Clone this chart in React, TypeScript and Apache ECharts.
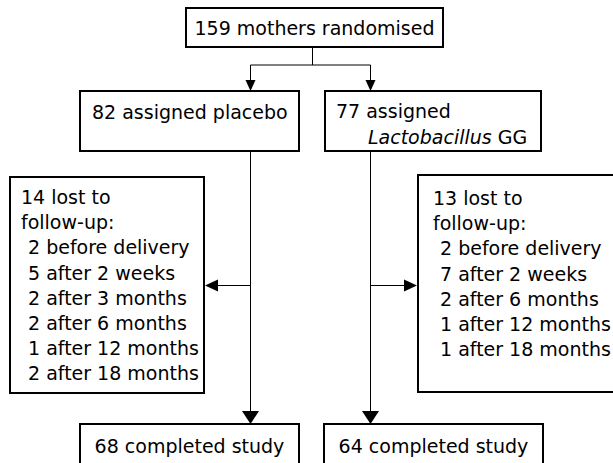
import React, { useEffect, useRef } from "react";
import * as echarts from "echarts";

// ---- content ----
const randomised = 159;
const armNames = ["placebo", "Lactobacillus GG"];
const assigned = [82, 77];
const lostTotal = [14, 13];
const lostTimesPlacebo = ["before delivery", "after 2 weeks", "after 3 months", "after 6 months", "after 12 months", "after 18 months"];
const lostCountsPlacebo = [2, 5, 2, 2, 1, 2];
const lostTimesLGG = ["before delivery", "after 2 weeks", "after 6 months", "after 12 months", "after 18 months"];
const lostCountsLGG = [2, 7, 2, 1, 1];
const completed = [68, 64];

// ---- layout (pixel units of a 613 x 463 canvas) ----
const W = 613;
const H = 463;
const FONT = "DejaVu Sans";
const FS = 19;
const LINE_H = 25.2;

const layout = {
  top: { x0: 186, y0: 8, x1: 443, y1: 47 },
  splitY: 65,
  armX: [250.5, 370.5],
  armBox: [
    { x0: 80, y0: 91, x1: 299, y1: 151 },
    { x0: 325, y0: 91, x1: 541, y1: 151 },
  ],
  lostBox: [
    { x0: 10, y0: 177, x1: 204, y1: 393 },
    { x0: 418, y0: 175, x1: 625, y1: 392 },
  ],
  lostArrowY: 285.5,
  lostTextX: [21, 433],
  lostFirstY: [197, 198],
  doneBox: [
    { x0: 80, y0: 424, x1: 299, y1: 472 },
    { x0: 324, y0: 424, x1: 543, y1: 472 },
  ],
  doneTextY: 446,
};

function renderItem(params: any, api: any) {
  const P = (x: number, y: number) => api.coord([x, y]);
  const children: any[] = [];
  const rect = (b: { x0: number; y0: number; x1: number; y1: number }) => {
    const a = P(b.x0, b.y0);
    const c = P(b.x1, b.y1);
    children.push({
      type: "rect",
      shape: { x: a[0], y: a[1], width: c[0] - a[0], height: c[1] - a[1] },
      style: { fill: "#fff", stroke: "#000", lineWidth: 2 },
    });
  };
  const line = (x0: number, y0: number, x1: number, y1: number) => {
    const a = P(x0, y0);
    const b = P(x1, y1);
    children.push({
      type: "line",
      shape: { x1: a[0], y1: a[1], x2: b[0], y2: b[1] },
      style: { stroke: "#000", lineWidth: 1 },
    });
  };
  // w = full width across the shaft, l = length along the shaft
  const arrow = (x: number, y: number, dir: "down" | "left" | "right", w: number, l: number) => {
    const h = w / 2;
    let pts: number[][];
    if (dir === "down") pts = [[x - h, y - l], [x + h, y - l], [x, y]];
    else if (dir === "left") pts = [[x + l, y - h], [x + l, y + h], [x, y]];
    else pts = [[x - l, y - h], [x - l, y + h], [x, y]];
    children.push({
      type: "polygon",
      shape: { points: pts.map((p) => P(p[0], p[1])) },
      style: { fill: "#000" },
    });
  };
  const text = (t: string, x: number, y: number, align: string = "left", rich?: any) => {
    const p = P(x, y);
    children.push({
      type: "text",
      style: {
        text: t,
        x: p[0],
        y: p[1],
        fill: "#000",
        fontFamily: FONT,
        fontSize: FS,
        align,
        verticalAlign: "middle",
        rich,
      },
    });
  };

  // connectors first (beneath boxes)
  const t = layout.top;
  const midX = 312.5;
  line(midX, t.y1, midX, layout.splitY);
  line(layout.armX[0], layout.splitY, layout.armX[1], layout.splitY);
  layout.armX.forEach((x) => {
    line(x, layout.splitY, x, layout.armBox[0].y0 - 8);
    arrow(x, layout.armBox[0].y0, "down", 10, 11);
    line(x, layout.armBox[0].y1, x, layout.doneBox[0].y0 - 10);
    arrow(x, layout.doneBox[0].y0, "down", 17, 13);
  });
  line(layout.armX[0], layout.lostArrowY, layout.lostBox[0].x1 + 10, layout.lostArrowY);
  arrow(layout.lostBox[0].x1 + 1, layout.lostArrowY, "left", 12, 13);
  line(layout.armX[1], layout.lostArrowY, layout.lostBox[1].x0 - 10, layout.lostArrowY);
  arrow(layout.lostBox[1].x0 - 1, layout.lostArrowY, "right", 12, 13);

  // top
  rect(t);
  text(`${randomised} mothers randomised`, (t.x0 + t.x1) / 2, (t.y0 + t.y1) / 2 + 0.5, "center");

  // arms
  rect(layout.armBox[0]);
  text(`${assigned[0]} assigned ${armNames[0]}`, 92, 112);
  rect(layout.armBox[1]);
  text(`${assigned[1]} assigned`, 336, 111);
  text(`{i|Lactobacillus} GG`, 368, 137, "left", {
    i: { fontStyle: "italic", fontFamily: FONT, fontSize: FS, fill: "#000" },
  });

  // lost
  const lists = [
    { times: lostTimesPlacebo, counts: lostCountsPlacebo },
    { times: lostTimesLGG, counts: lostCountsLGG },
  ];
  lists.forEach((l, k) => {
    rect(layout.lostBox[k]);
    const x = layout.lostTextX[k];
    const y0 = layout.lostFirstY[k];
    text(`${lostTotal[k]} lost to`, x, y0);
    text("follow-up:", x, y0 + LINE_H);
    l.times.forEach((tm, i) => {
      text(`${l.counts[i]} ${tm}`, x + 7, y0 + LINE_H * (i + 2));
    });
  });

  // completed
  layout.doneBox.forEach((b, k) => {
    rect(b);
    text(`${completed[k]} completed study`, (b.x0 + b.x1) / 2, layout.doneTextY, "center");
  });

  return { type: "group", children };
}

export default function App() {
  const ref = useRef<HTMLDivElement>(null);
  useEffect(() => {
    document.body.style.margin = "0";
    const chart = echarts.init(ref.current!, null, { renderer: "svg" });
    chart.setOption({
      animation: false,
      backgroundColor: "#fff",
      grid: { left: 0, right: 0, top: 0, bottom: 0 },
      xAxis: { type: "value", min: 0, max: W, show: false },
      yAxis: { type: "value", min: 0, max: H, inverse: true, show: false },
      series: [
        {
          type: "custom",
          clip: false,
          renderItem,
          data: [[0, 0]],
          silent: true,
        },
      ],
    });
    return () => chart.dispose();
  }, []);
  return <div ref={ref} style={{ width: W, height: H }} />;
}
